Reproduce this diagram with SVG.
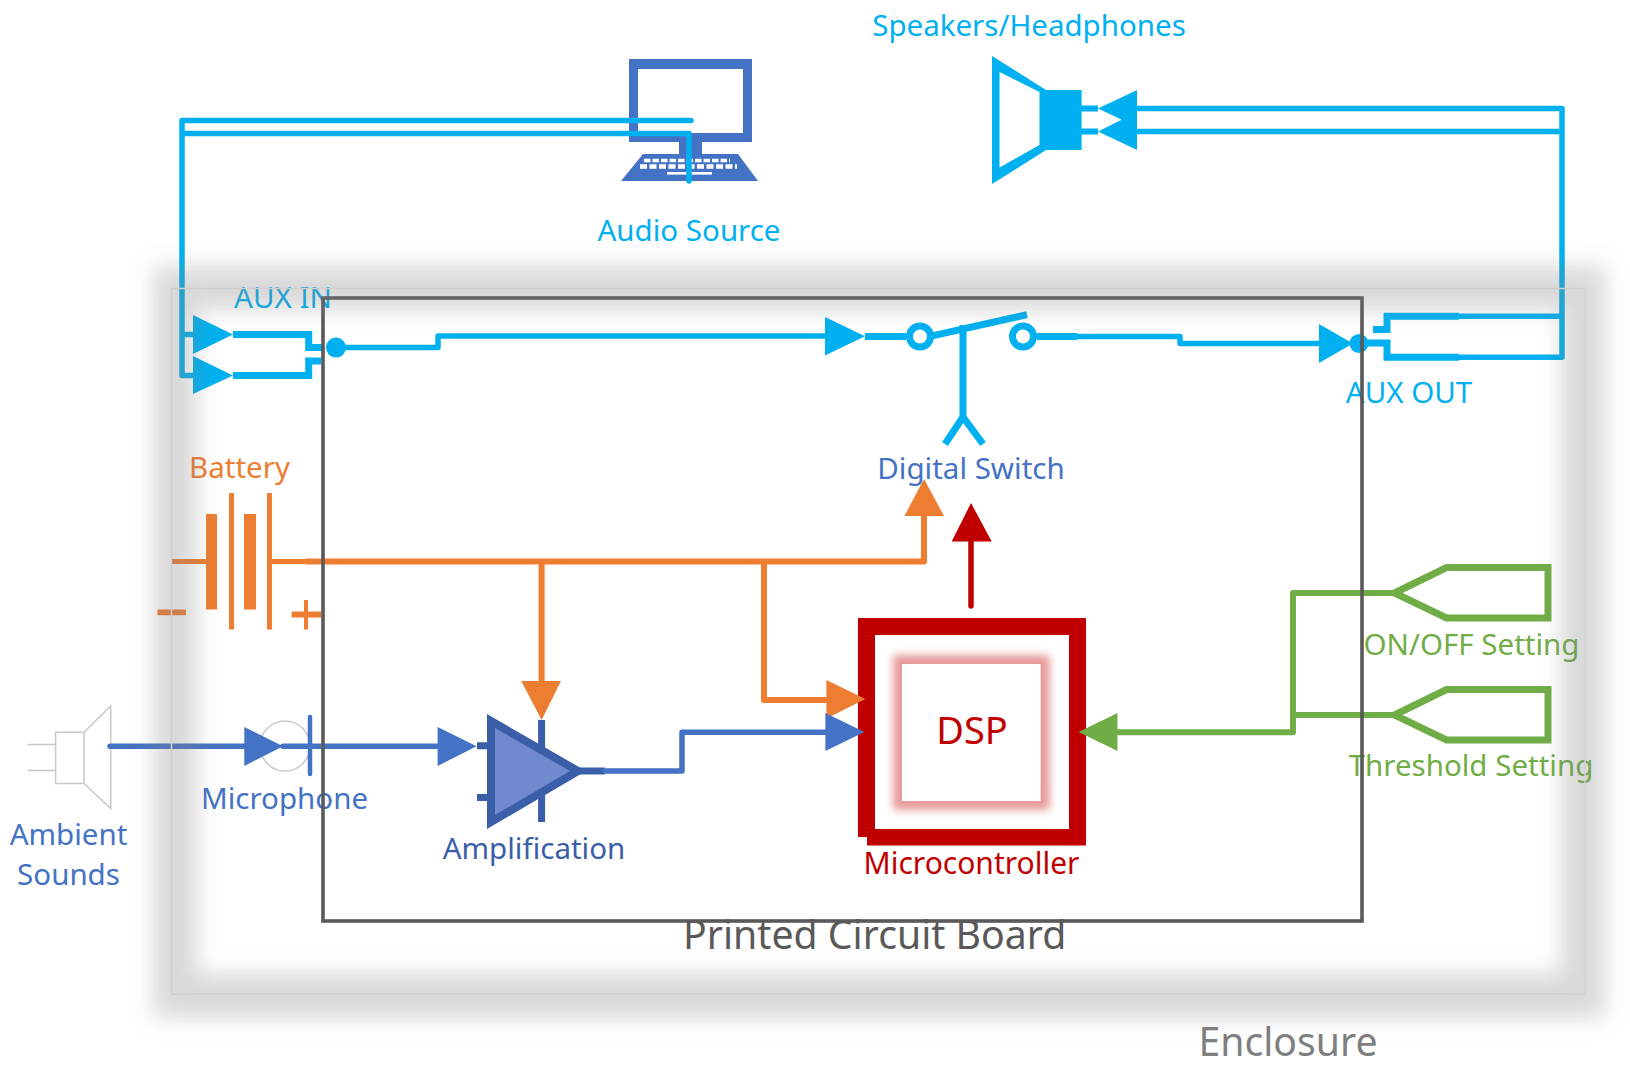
<svg xmlns="http://www.w3.org/2000/svg" width="1630" height="1091" viewBox="0 0 1630 1091">
<defs>
<filter id="glow" x="-10%" y="-10%" width="120%" height="120%"><feGaussianBlur stdDeviation="11"/></filter>
<filter id="halo" x="-20%" y="-20%" width="140%" height="140%"><feGaussianBlur stdDeviation="4"/></filter>
</defs>
<style>
text{font-family:"Noto Sans","Open Sans","Liberation Sans",sans-serif;font-size:29.5px;text-anchor:middle}
.cy{fill:#00b0f0}.bl{fill:#4472c4}.dk{fill:#3b5ea8}.or{fill:#ed7d31}.re{fill:#c00000}.gr{fill:#70ad47}
.l{fill:none;stroke-width:5.5;stroke-linejoin:round;stroke-linecap:round}
.c{stroke:#00b0f0}.b{stroke:#4472c4}.o{stroke:#ed7d31}.r{stroke:#c00000}.g{stroke:#70ad47}.d{stroke:#3b5ea8}
.t{stroke-width:7;stroke-linecap:butt}
</style>
<rect width="1630" height="1091" fill="#fff"/>
<g id="audio-source">
<path fill="#4472c4" fill-rule="evenodd" d="M629 59H752V142H702V154H738L758 181H621L643 154H679V142H629ZM638 69V133H743V69Z"/>
<path fill="none" stroke="#fff" stroke-width="3.5" stroke-dasharray="6.5 2" d="M644 160.5H730"/>
<path fill="none" stroke="#fff" stroke-width="4.5" stroke-dasharray="7 2.5" d="M640 166.5H737"/>
<rect x="667" y="172" width="45" height="2.6" fill="#fff"/>
<text class="cy" x="689" y="240.5">Audio Source</text>
</g>
<g id="speakers">
<path class="cy" fill-rule="evenodd" d="M992 56L1046 90H1081.6V150H1046L992 184ZM999.5 72V167.5L1039.5 145V92Z"/>
<path class="l c" style="stroke-width:6;stroke-linecap:butt" d="M1081 108.4H1098M1081 131.4H1098"/>
<text class="cy" x="1029" y="35.5">Speakers/Headphones</text>
</g>
<g id="aux-in">
<path class="l c t" d="M233 334.4H308.7V347.6H323M233 375.4H308.7V361H321" style="stroke-linejoin:miter"/>
<circle class="cy" cx="336" cy="347.6" r="10"/>
<text class="cy" x="283" y="308">AUX IN</text>
</g>
<g id="digital-switch">
<path class="l c t" d="M865 336.5H906M1037 336.5H1077M930 336.4L1027 314.6M963 325V417L945 444M963 417L983 444"/>
<circle cx="920" cy="336.5" r="10.5" fill="#fff" stroke="#00b0f0" stroke-width="7"/>
<circle cx="1023" cy="336.5" r="10.5" fill="#fff" stroke="#00b0f0" stroke-width="7"/>
<text class="bl" x="971" y="479">Digital Switch</text>
</g>
<g id="aux-out">
<path class="l c t" style="stroke-linejoin:miter" d="M1459 316.3H1387V329.5H1373M1459 357.3H1387V343H1365"/>
<circle class="cy" cx="1359" cy="343.5" r="9.5"/>
<text class="cy" x="1409" y="403">AUX OUT</text>
</g>
<g id="battery">
<path class="l o" style="stroke-width:5;stroke-linecap:butt" d="M172 561.4H207M272 561.4H307"/>
<path class="or" d="M206 514H217V609.4H206ZM244 514H256V609.4H244ZM229 493H234V629.6H229ZM267 493H272V629.6H267ZM157.5 609.4H186V615.3H157.5ZM291.6 611.6H321V617.6H291.6ZM304 600H308V629.6H304Z"/>
<text class="or" x="239.5" y="478">Battery</text>
</g>
<g id="ambient-sounds">
<path fill="none" stroke="#c8c8c8" stroke-width="1.5" d="M27.5 744.5H55.6M27.5 770.6H55.6M55.6 732.3H84V783.5H55.6ZM84 732.3L110.7 706V808.6L84 783.5"/>
<text class="bl" x="68.5" y="844.5">Ambient</text>
<text class="bl" x="68.5" y="885">Sounds</text>
</g>
<g id="microphone">
<circle cx="285" cy="746" r="25" fill="none" stroke="#c8c8c8" stroke-width="1.5"/>
<path class="l b" style="stroke-width:4.5" d="M310 717V774"/>
<text class="bl" x="284.5" y="808.5">Microphone</text>
</g>
<g id="amplification">
<polygon points="491,721 578,771 491,822" fill="#7189cd" stroke="#3b5ea8" stroke-width="8"/>
<path class="l d t" d="M477 745.7H488M477 797.4H488M541.6 720V748.7M541.6 794V822M575 771H605"/>
<text class="dk" x="534" y="859">Amplification</text>
</g>
<g id="microcontroller">
<path class="re" fill-rule="evenodd" d="M858 618H1086V845.5H867V837H858ZM875 635V829H1069V635Z"/>
<rect x="901" y="663" width="140.6" height="139" fill="none" stroke="#c00000" stroke-width="16" opacity=".4" filter="url(#halo)"/>
<rect x="902" y="664" width="138.6" height="137" fill="#fff"/>
<text class="re" x="972" y="744" style="font-size:38px">DSP</text>
<text class="re" x="971.5" y="874" style="font-size:30px">Microcontroller</text>
</g>
<g id="on-off-setting">
<path class="l g" style="stroke-width:7;stroke-linejoin:miter" d="M1394.5 593L1446.5 567.6H1548V618H1446.5Z"/>
<text class="gr" x="1471.5" y="655">ON/OFF Setting</text>
</g>
<g id="threshold-setting">
<path class="l g" style="stroke-width:7;stroke-linejoin:miter" d="M1394.5 715L1446.5 689.5H1548V740H1446.5Z"/>
<text class="gr" x="1471" y="776">Threshold Setting</text>
</g>
<g id="connectors">
<path class="l c" d="M691 120.6H182V375.4H200M182 334.4H200M689 181V133.5H182"/>
<path class="l c" d="M336 347.6H438V336H830"/>
<path class="l c" d="M1077 336.5H1180V343.5H1325"/>
<path class="l c" d="M1459 316.3H1562V357.3H1459M1562 316.3V108.4H1130M1562 131.4H1130"/>
<path class="l o" style="stroke-width:6" d="M307 561.4H924V510M541.6 561.4V690M764 561.4V700H835"/>
<path class="l b" d="M110 746.3H260M283 746.3H450"/>
<path class="l b" d="M605 771H682V732.3H835"/>
<path class="l r" d="M971 606V535"/>
<path class="l g" style="stroke-width:6" d="M1394 593H1293V732.3H1110M1293 715H1394"/>
<g id="arrowheads">
<path class="cy" d="M193 315L233 334.4L193 354ZM193 356L233 375.4L193 394ZM825 317L865 336.3L825 355.6ZM1319 324L1353 343.5L1319 363ZM1137 90L1098 108.4L1137 127ZM1137 112L1098 131.4L1137 150Z"/>
<path class="or" d="M924 479L944 516H904.4ZM541.6 720L561 681H521.3ZM865.4 699L826.4 680V718.4Z"/>
<path class="bl" d="M283 746.3L244.3 727V766ZM476.6 746.3L437.6 727V766ZM864.4 732L825.4 713V751Z"/>
<path class="re" d="M971 503L991.7 541.5H951.7Z"/>
<path class="gr" d="M1078.5 732L1117.5 713V751Z"/>
</g>
</g>
<g id="pcb">
<rect x="323" y="298" width="1039" height="623" fill="none" stroke="#595959" stroke-width="3.6"/>
<text x="874.7" y="949" fill="#595959" style="font-size:39.2px">Printed Circuit Board</text>
</g>
<g id="enclosure">
<rect x="175" y="288" width="1408" height="708" fill="none" stroke="#808080" stroke-opacity=".3" stroke-width="44" filter="url(#glow)"/>
<rect x="171.5" y="288.5" width="1413.5" height="705.5" fill="none" stroke="#cfcfcf" stroke-width="1.5"/>
<text x="1288" y="1056" fill="#7f7f7f" style="font-size:39.2px">Enclosure</text>
</g>
</svg>
